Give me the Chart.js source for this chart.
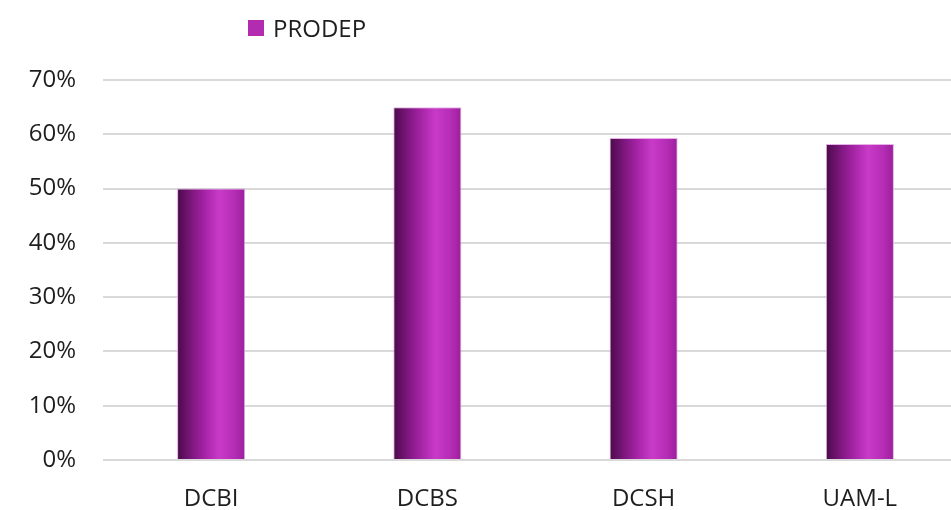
<!DOCTYPE html>
<html>
<head>
<meta charset="utf-8">
<script src="https://cdn.jsdelivr.net/npm/chart.js@4.4.0/dist/chart.umd.min.js"></script>
<style>
  html, body { margin: 0; padding: 0; background: #fff; overflow: hidden; }
  #wrap { position: relative; width: 951px; height: 510px; overflow: hidden; }
  #legend { position: absolute; left: 248px; top: 13px; height: 30px; line-height: 30px; font-family: "Open Sans", sans-serif; font-size: 24px; color: #1e1e1e; display: flex; align-items: center; }
  #legend span.box { display: inline-block; width: 16px; height: 16px; background: #b22cb2; margin-right: 9px; }
</style>
</head>
<body>
<div id="wrap">
  <canvas id="myChart" width="975" height="510"></canvas>
  <div id="legend"><span class="box"></span><span id="legendText"></span></div>
</div>
<script>
// data
const categories = ['DCBI', 'DCBS', 'DCSH', 'UAM-L'];
const prodepValues = [50, 65, 59.3, 58.2];
const seriesName = 'PRODEP';
const yTicks = [0, 10, 20, 30, 40, 50, 60, 70];

document.getElementById('legendText').textContent = seriesName;

const barPct = 0.315;

// horizontal "cylinder" shading for each bar
function barGradient(context) {
	const chart = context.chart;
	const xScale = chart.scales.x;
	if (!xScale || context.dataIndex === undefined || !chart.chartArea) {
		return '#b22cb2';
	}
	const cx = xScale.getPixelForValue(context.dataIndex);
	const half = xScale.width / categories.length * barPct / 2;
	if (!isFinite(cx) || !isFinite(half) || half <= 0) {
		return '#b22cb2';
	}
	const g = chart.ctx.createLinearGradient(cx - half, 0, cx + half, 0);
	g.addColorStop(0, '#4a0a4a');
	g.addColorStop(0.2, '#7a167a');
	g.addColorStop(0.4, '#a423a4');
	g.addColorStop(0.62, '#c93ac9');
	g.addColorStop(0.85, '#b42cb4');
	g.addColorStop(1, '#9a1f9a');
	return g;
}

const config = {
	type: 'bar',
	data: {
		labels: categories,
		datasets: [{
			label: seriesName,
			data: prodepValues,
			backgroundColor: barGradient,
			borderColor: 'rgba(225,170,225,0.9)',
			borderWidth: 1,
			barPercentage: barPct,
			categoryPercentage: 1
		}]
	},
	options: {
		responsive: false,
		animation: false,
		layout: { padding: { top: 80, right: 7, left: 0, bottom: 0 } },
		plugins: {
			legend: { display: false },
			tooltip: { enabled: false }
		},
		scales: {
			x: {
				grid: { display: false },
				border: { display: false },
				ticks: {
					color: '#1e1e1e',
					font: { family: 'Open Sans', size: 24 },
					padding: 17
				},
				afterFit: function (scale) { scale.height = 50; }
			},
			y: {
				min: 0,
				max: 70,
				afterBuildTicks: function (scale) {
					scale.ticks = yTicks.map(v => ({ value: v }));
				},
				grid: { color: '#d9d9d9', lineWidth: 2, drawTicks: false },
				border: { display: false },
				ticks: {
					color: '#1e1e1e',
					font: { family: 'Open Sans', size: 24 },
					padding: 27,
					callback: v => v + '%'
				},
				afterFit: function (scale) { scale.width = 103; }
			}
		}
	}
};

new Chart(document.getElementById('myChart'), config);
</script>
</body>
</html>
